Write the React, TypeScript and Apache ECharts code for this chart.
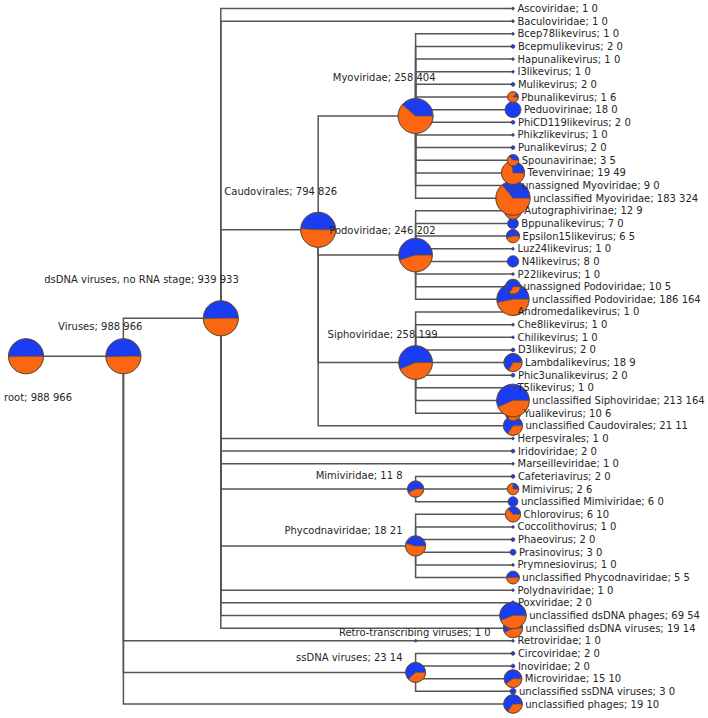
import React, { useEffect, useRef } from "react";
import * as echarts from "echarts";

// Taxonomy nodes in depth-first display order
const NAMES: string[] = [
  "root", "Viruses", "dsDNA viruses, no RNA stage", "Ascoviridae", "Baculoviridae",
  "Caudovirales", "Myoviridae", "Bcep78likevirus", "Bcepmulikevirus", "Hapunalikevirus",
  "I3likevirus", "Mulikevirus", "Pbunalikevirus", "Peduovirinae", "PhiCD119likevirus",
  "Phikzlikevirus", "Punalikevirus", "Spounavirinae", "Tevenvirinae", "unassigned Myoviridae",
  "unclassified Myoviridae", "Podoviridae", "Autographivirinae", "Bppunalikevirus", "Epsilon15likevirus",
  "Luz24likevirus", "N4likevirus", "P22likevirus", "unassigned Podoviridae", "unclassified Podoviridae",
  "Siphoviridae", "Andromedalikevirus", "Che8likevirus", "Chilikevirus", "D3likevirus",
  "Lambdalikevirus", "Phic3unalikevirus", "T5likevirus", "unclassified Siphoviridae", "Yualikevirus",
  "unclassified Caudovirales", "Herpesvirales", "Iridoviridae", "Marseilleviridae", "Mimiviridae",
  "Cafeteriavirus", "Mimivirus", "unclassified Mimiviridae", "Phycodnaviridae", "Chlorovirus",
  "Coccolithovirus", "Phaeovirus", "Prasinovirus", "Prymnesiovirus", "unclassified Phycodnaviridae",
  "Polydnaviridae", "Poxviridae", "unclassified dsDNA phages", "unclassified dsDNA viruses", "Retro-transcribing viruses",
  "Retroviridae", "ssDNA viruses", "Circoviridae", "Inoviridae", "Microviridae",
  "unclassified ssDNA viruses", "unclassified phages",
];

const PARENTS: (string | null)[] = [
  null, "root", "Viruses", "dsDNA viruses, no RNA stage", "dsDNA viruses, no RNA stage",
  "dsDNA viruses, no RNA stage", "Caudovirales", "Myoviridae", "Myoviridae", "Myoviridae",
  "Myoviridae", "Myoviridae", "Myoviridae", "Myoviridae", "Myoviridae",
  "Myoviridae", "Myoviridae", "Myoviridae", "Myoviridae", "Myoviridae",
  "Myoviridae", "Caudovirales", "Podoviridae", "Podoviridae", "Podoviridae",
  "Podoviridae", "Podoviridae", "Podoviridae", "Podoviridae", "Podoviridae",
  "Caudovirales", "Siphoviridae", "Siphoviridae", "Siphoviridae", "Siphoviridae",
  "Siphoviridae", "Siphoviridae", "Siphoviridae", "Siphoviridae", "Siphoviridae",
  "Caudovirales", "dsDNA viruses, no RNA stage", "dsDNA viruses, no RNA stage", "dsDNA viruses, no RNA stage", "dsDNA viruses, no RNA stage",
  "Mimiviridae", "Mimiviridae", "Mimiviridae", "dsDNA viruses, no RNA stage", "Phycodnaviridae",
  "Phycodnaviridae", "Phycodnaviridae", "Phycodnaviridae", "Phycodnaviridae", "Phycodnaviridae",
  "dsDNA viruses, no RNA stage", "dsDNA viruses, no RNA stage", "dsDNA viruses, no RNA stage", "dsDNA viruses, no RNA stage", "Viruses",
  "Retro-transcribing viruses", "Viruses", "ssDNA viruses", "ssDNA viruses", "ssDNA viruses",
  "ssDNA viruses", "Viruses",
];

// First sample (blue) counts
const COUNT_A: number[] = [
  988, 988, 939, 1, 1,
  794, 258, 1, 2, 1,
  1, 2, 1, 18, 2,
  1, 2, 3, 19, 9,
  183, 246, 12, 7, 6,
  1, 8, 1, 10, 186,
  258, 1, 1, 1, 2,
  18, 2, 1, 213, 10,
  21, 1, 2, 1, 11,
  2, 2, 6, 18, 6,
  1, 2, 3, 1, 5,
  1, 2, 69, 19, 1,
  1, 23, 2, 2, 15,
  3, 19,
];

// Second sample (orange) counts
const COUNT_B: number[] = [
  966, 966, 933, 0, 0,
  826, 404, 0, 0, 0,
  0, 0, 6, 0, 0,
  0, 0, 5, 49, 0,
  324, 202, 9, 0, 5,
  0, 0, 0, 5, 164,
  199, 0, 0, 0, 0,
  9, 0, 0, 164, 6,
  11, 0, 0, 0, 8,
  0, 6, 0, 21, 10,
  0, 0, 0, 0, 5,
  0, 0, 54, 14, 0,
  0, 14, 0, 0, 10,
  0, 10,
];

const BLUE = "#1a3cf2";
const ORANGE = "#fb6612";
const EDGE = "#555555";
const OUTLINE = "#5e4632";
const TEXT = "#262626";
const FONT = '10px "DejaVu Sans", sans-serif';

// label placement of inner nodes relative to the node: [right end dx, middle dy]
const INNER_LABEL: Record<string, [number, number]> = {
  root: [46, 41],
  Viruses: [19, -30],
  "dsDNA viruses, no RNA stage": [18, -39],
  Caudovirales: [19, -38],
  Myoviridae: [20, -38],
  Podoviridae: [20, -25],
  Siphoviridae: [22, -28],
  Mimiviridae: [-13, -14],
  Phycodnaviridae: [-13, -15],
  "Retro-transcribing viruses": [75, -8],
  "ssDNA viruses": [-13, -15],
};

function radius(n: number): number {
  if (n <= 1) return 1.3;
  return Math.min(17.5, 2.75 * Math.log(n));
}

function buildLayout() {
  const n = NAMES.length;
  const idx: Record<string, number> = {};
  NAMES.forEach((nm, i) => (idx[nm] = i));
  const children: number[][] = NAMES.map(() => []);
  PARENTS.forEach((p, i) => {
    if (p !== null) children[idx[p]].push(i);
  });
  const yPos = new Array(n).fill(0);
  const height = new Array(n).fill(0);
  const firstLeaf = new Array(n).fill(0);
  const lastLeaf = new Array(n).fill(0);
  let leafCounter = 0;
  const visit = (i: number) => {
    const ch = children[i];
    if (ch.length === 0) {
      yPos[i] = leafCounter;
      firstLeaf[i] = leafCounter;
      lastLeaf[i] = leafCounter;
      leafCounter++;
      height[i] = 0;
      return;
    }
    let h = 0;
    ch.forEach((c) => {
      visit(c);
      h = Math.max(h, height[c]);
    });
    height[i] = h + 1;
    firstLeaf[i] = firstLeaf[ch[0]];
    lastLeaf[i] = lastLeaf[ch[ch.length - 1]];
    yPos[i] = (firstLeaf[i] + lastLeaf[i]) / 2;
  };
  visit(0);
  const maxH = height[0];
  const level = height.map((h) => maxH - h);
  return { idx, children, yPos, level, leaves: leafCounter, maxH };
}

export default function App() {
  const ref = useRef<HTMLDivElement>(null);
  useEffect(() => {
    if (!ref.current) return;
    const chart = echarts.init(ref.current, undefined, { renderer: "svg" });
    const L = buildLayout();

    const edgeData: number[][] = [];
    PARENTS.forEach((p, i) => {
      if (p === null) return;
      const pi = L.idx[p];
      edgeData.push([L.level[pi], L.yPos[pi], L.level[i], L.yPos[i]]);
    });

    const pieData: number[][] = [];
    for (let i = NAMES.length - 1; i >= 0; i--) {
      pieData.push([L.level[i], L.yPos[i], COUNT_A[i], COUNT_B[i], i]);
    }

    const edgeRender = (params: any, api: any) => {
      const p = api.coord([api.value(0), api.value(1)]);
      const c = api.coord([api.value(2), api.value(3)]);
      return {
        type: "polyline",
        shape: { points: [[p[0], p[1]], [p[0], c[1]], [c[0], c[1]]] },
        style: { stroke: EDGE, lineWidth: 1.5, fill: null },
        silent: true,
      };
    };

    const pieRender = (params: any, api: any) => {
      const [cx, cy] = api.coord([api.value(0), api.value(1)]);
      const a = api.value(2) as number;
      const b = api.value(3) as number;
      const i = api.value(4) as number;
      const total = a + b;
      const r = radius(total);
      const kids: any[] = [];
      const theta = (a / total) * Math.PI * 2;
      if (b === 0) {
        kids.push({ type: "circle", shape: { cx, cy, r }, style: { fill: BLUE, stroke: OUTLINE, lineWidth: 0.8 } });
      } else if (a === 0) {
        kids.push({ type: "circle", shape: { cx, cy, r }, style: { fill: ORANGE, stroke: OUTLINE, lineWidth: 0.8 } });
      } else {
        kids.push({
          type: "sector",
          shape: { cx, cy, r, r0: 0, startAngle: -theta, endAngle: 0, clockwise: true },
          style: { fill: BLUE, stroke: OUTLINE, lineWidth: 0.6 },
        });
        kids.push({
          type: "sector",
          shape: { cx, cy, r, r0: 0, startAngle: 0, endAngle: Math.PI * 2 - theta, clockwise: true },
          style: { fill: ORANGE, stroke: OUTLINE, lineWidth: 0.6 },
        });
        kids.push({ type: "circle", shape: { cx, cy, r }, style: { fill: null, stroke: OUTLINE, lineWidth: 0.8 } });
      }
      const name = NAMES[i];
      const text = `${name}; ${a} ${b}`;
      const isLeaf = L.level[i] === L.maxH;
      if (isLeaf) {
        kids.push({
          type: "text",
          style: {
            text, x: cx + Math.max(r, 1.5) + 3, y: cy,
            fill: TEXT, font: FONT,
            align: "left", verticalAlign: "middle",
            textAlign: "left", textVerticalAlign: "middle",
          },
          z2: 10,
        });
      } else {
        const off = INNER_LABEL[name] || [0, -20];
        kids.push({
          type: "text",
          style: {
            text, x: cx + off[0], y: cy + off[1],
            fill: TEXT, font: FONT,
            align: "right", verticalAlign: "middle",
            textAlign: "right", textVerticalAlign: "middle",
          },
          z2: 10,
        });
      }
      return { type: "group", children: kids };
    };

    chart.setOption({
      animation: false,
      backgroundColor: "#ffffff",
      grid: { left: 26, right: 195, top: 8.5, bottom: 14, containLabel: false },
      xAxis: { type: "value", min: 0, max: L.maxH, show: false },
      yAxis: { type: "value", min: 0, max: L.leaves - 1, inverse: true, show: false },
      series: [
        { type: "custom", renderItem: edgeRender, data: edgeData, clip: false, silent: true, z: 1 },
        { type: "custom", renderItem: pieRender, data: pieData, clip: false, silent: true, z: 2 },
      ],
    });
    return () => chart.dispose();
  }, []);
  return (
    <div
      ref={ref}
      style={{ position: "absolute", left: 0, top: 0, width: 708, height: 718, background: "#fff" }}
    />
  );
}
